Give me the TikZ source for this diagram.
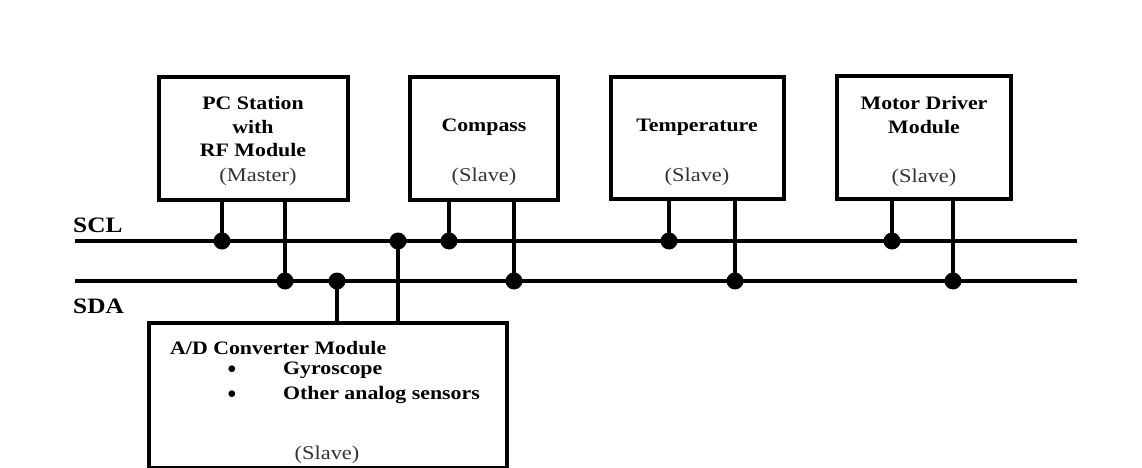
\documentclass[tikz,border=0pt]{standalone}
\usepackage{fontspec}
\setmainfont{Liberation Serif}[FakeStretch=1.15]
\begin{document}
\begin{tikzpicture}[x=1pt,y=-1pt,
  box/.style={draw=black,line width=4pt},
  bus/.style={line width=3.5pt},
  drop/.style={line width=3.5pt},
  dot/.style={circle,fill=black,inner sep=0pt,minimum size=17pt},
  bt/.style={font=\fontsize{19}{22}\selectfont\bfseries,inner sep=0pt,anchor=center},
  lt/.style={font=\fontsize{22}{25}\selectfont\bfseries,inner sep=0pt,anchor=west},
  nt/.style={font=\fontsize{19.5}{22}\selectfont,inner sep=0pt,anchor=center,text=black!80}]
\useasboundingbox (0,0) rectangle (1142,468);
% boxes
\draw[box] (159,77) rectangle (348,200);
\draw[box] (410,77) rectangle (558,200);
\draw[box] (611,77) rectangle (784,199);
\draw[box] (837,76) rectangle (1011,199);
\draw[box] (149,323) rectangle (507,468);
% bus coordinates
\coordinate (sclL) at (75,241);
\coordinate (sclR) at (1077,241);
\coordinate (sdaL) at (75,281);
\coordinate (sdaR) at (1077,281);
\draw[bus] (sclL) -- (sclR);
\draw[bus] (sdaL) -- (sdaR);
% junction dots
\node[dot] (j1) at (222,241) {};
\node[dot] (j2) at (285,281) {};
\node[dot] (j3) at (337,281) {};
\node[dot] (j4) at (398,241) {};
\node[dot] (j5) at (449,241) {};
\node[dot] (j6) at (514,281) {};
\node[dot] (j7) at (669,241) {};
\node[dot] (j8) at (735,281) {};
\node[dot] (j9) at (892,241) {};
\node[dot] (j10) at (953,281) {};
% drops
\draw[drop] (222,200) -- (j1.center);
\draw[drop] (285,200) -- (j2.center);
\draw[drop] (337,323) -- (j3.center);
\draw[drop] (398,323) -- (j4.center);
\draw[drop] (449,200) -- (j5.center);
\draw[drop] (514,200) -- (j6.center);
\draw[drop] (669,199) -- (j7.center);
\draw[drop] (735,199) -- (j8.center);
\draw[drop] (892,199) -- (j9.center);
\draw[drop] (953,199) -- (j10.center);
% labels
\node[lt] (scl) at (73,225) {SCL};
\node[lt] (sda) at (73,306) {SDA};
% PC
\node[bt] (pc1) at (253,103) {PC Station};
\node[bt] (pc2) at (253,127) {with};
\node[bt] (pc3) at (253,150) {RF Module};
\node[nt] (pc4) at (258,177) {(Master)};
% Compass
\node[bt] (c1) at (484,127) {Compass};
\node[nt] (c2) at (484,177) {(Slave)};
% Temperature
\node[bt] (t1) at (697,127) {Temperature};
\node[nt] (t2) at (697,177) {(Slave)};
% Motor
\node[bt] (m1) at (924,103) {Motor Driver};
\node[bt] (m2) at (924,127) {Module};
\node[nt] (m3) at (924,178) {(Slave)};
% A/D
\node[bt,anchor=west] (a1) at (170,348) {A/D Converter Module};
\node[bt] (b1) at (232,370) {$\bullet$};
\node[bt] (b2) at (232,395) {$\bullet$};
\node[bt,anchor=west] (a2) at (283,370) {Gyroscope};
\node[bt,anchor=west] (a3) at (283,395) {Other analog sensors};
\node[nt] (a4) at (327,455) {(Slave)};
\end{tikzpicture}
\end{document}
